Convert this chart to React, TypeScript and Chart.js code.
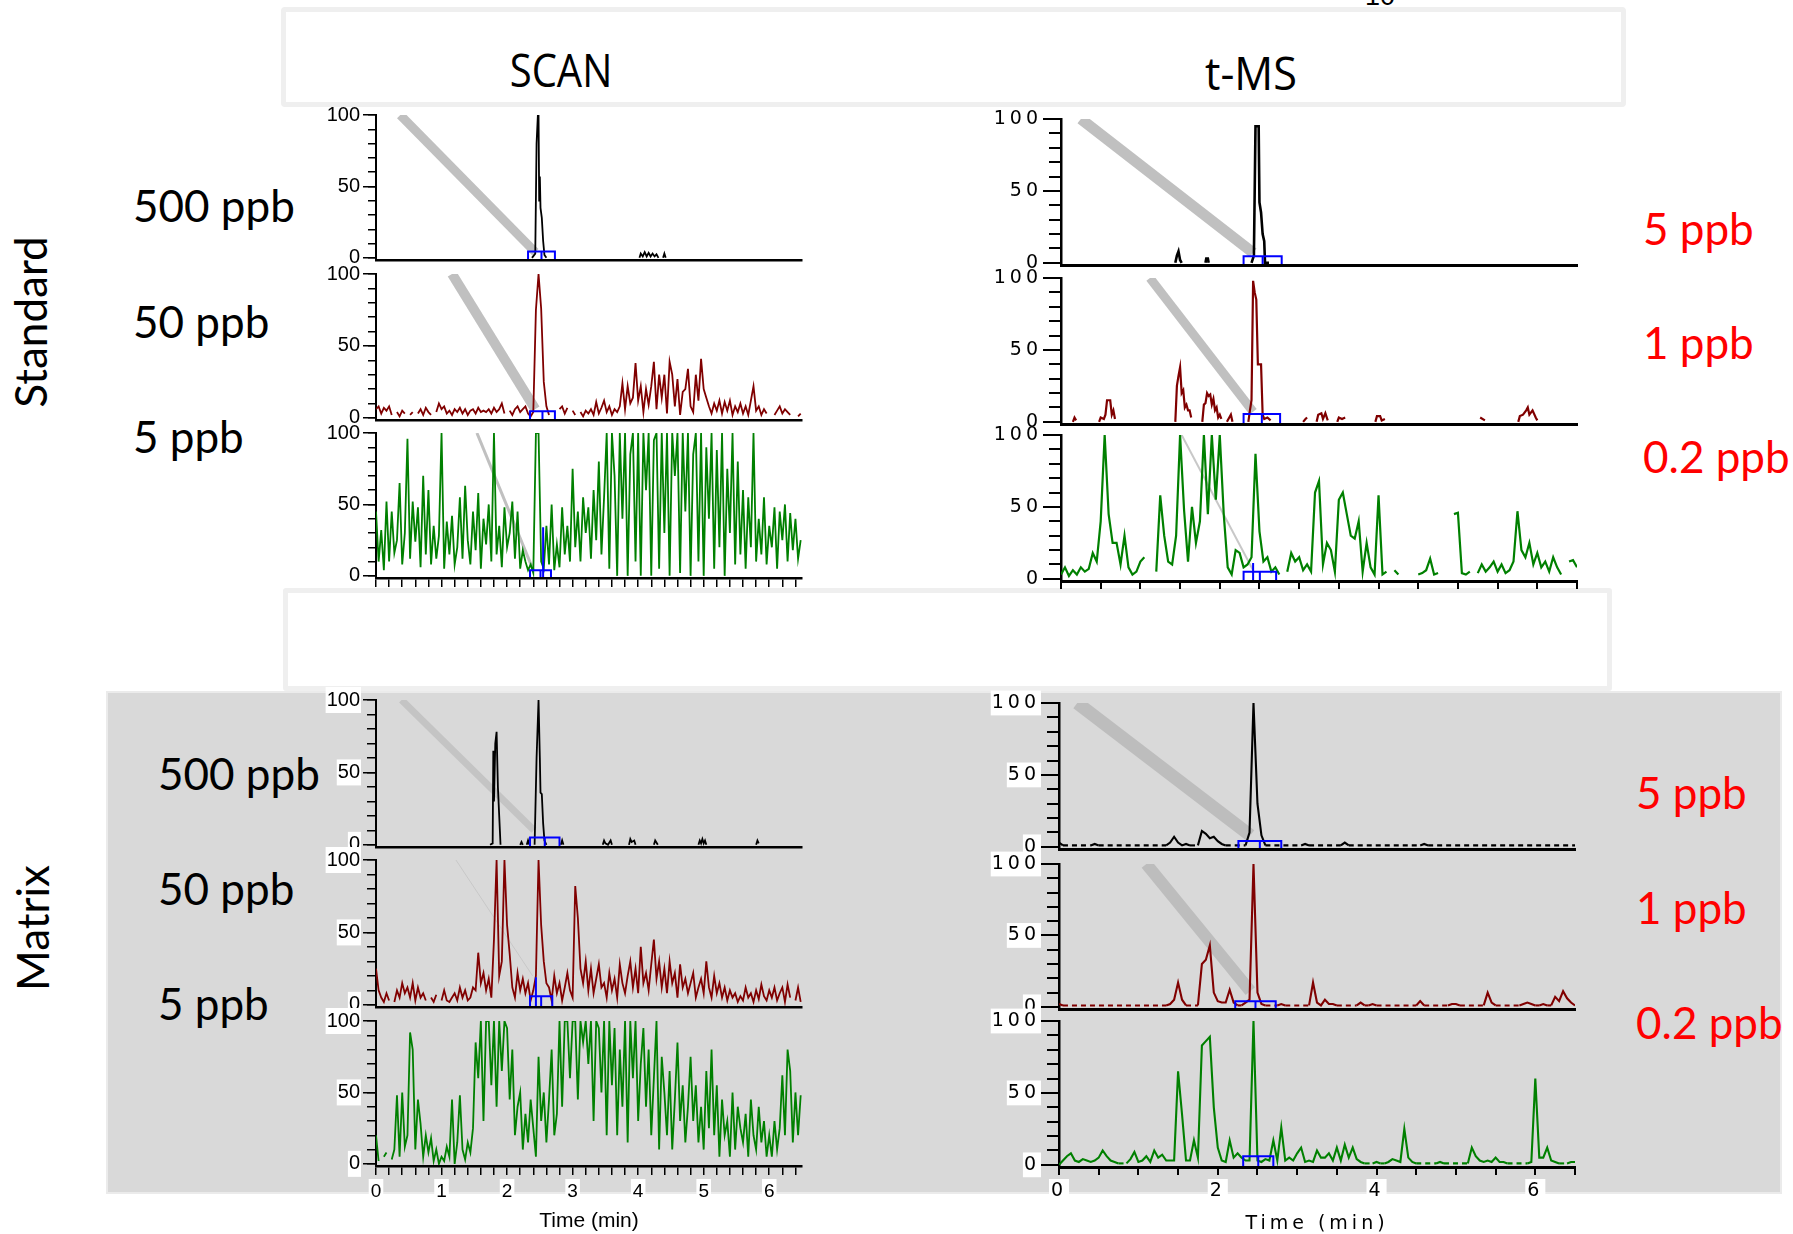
import React, { useEffect, useRef } from "react";
import { Chart, registerables } from "chart.js";
Chart.register(...registerables);

// ---------------- axis / sampling ----------------
const X_MAX = 6.5;
const SCAN_STEP = 0.04; // min between SCAN samples
const TMS_STEP = 0.05; // min between t-MS samples
const yMajorTicks = [0, 50, 100];

// ---------------- Standard, SCAN ----------------
const scanStd500Time = [2.38, 2.43, 2.45, 2.47, 2.48, 2.49, 2.5, 2.51, 2.53, 2.55, 2.57, 2.6, 2.6,
  4.02, 4.04, 4.07, 4.1, 4.13, 4.16, 4.19, 4.22, 4.25, 4.28, 4.31, 4.31, 4.38, 4.4, 4.42];
const scanStd500Int = [0, 3, 80, 100, 100, 40, 57, 35, 28, 12, 2, 0, null,
  0, 3, 1, 4, 1, 3.5, 1, 3, 1, 2.5, 0, null, 0, 3, 0];

const scanStd50Int = [
  6, 8, 3, 7, 5, 8, 2, null, 4, 1,
  5, 3, null, 2, 4, null, 3, 6, 2, 7,
  4, 2, null, 4, 10, 6, 8, 3, 5, 2,
  6, 4, 7, 3, 6, 2, 5, 6, 3, 7,
  4, 5, 4, 6, 3, 7, 4, 6, 10, 3,
  null, 5, 2, 6, 8, 4, 6, 8, 3, 1,
  4, 75, 100, 76, 25, 8, 2, null, null, null,
  6, 8, 3, 7, null, 5, 2, null, 4, 1,
  5, 3, 6, 2, 11, 3, 7, 12, 4, 8,
  2, 6, 4, 8, 24, 6, 22, 10, 14, 38,
  12, 22, 4, 20, 9, 22, 39, 6, 30, 14,
  30, 3, 39, 30, 8, 27, 2, 18, 20, 34,
  8, 4, 30, 12, 41, 20, 14, 8, 3, 10,
  5, 12, 3, 11, 5, 12, 2, 8, 4, 10,
  3, 8, 2, 12, 22, 5, 8, 2, 6, 3,
  null, null, 2, 5, 8, 3, 6, 4, 2, null,
  null, 1, 3,
];

const scanStd5Int = [
  45, 10, 32, 4, 52, 10, 45, 16, 25, 65,
  8, 30, 96, 12, 52, 24, 48, 6, 70, 15,
  60, 8, 35, 12, 28, 100, 5, 38, 15, 42,
  8, 20, 55, 12, 63, 25, 8, 45, 18, 58,
  5, 40, 22, 50, 10, 100, 15, 35, 6, 48,
  20, 30, 52, 12, 45, 5, 18, 10, 4, 8,
  2, 100, 100, 10, 5, 35, 8, 50, 4, 22,
  6, 48, 15, 35, 10, 75, 20, 45, 10, 55,
  30, 48, 12, 60, 25, 80, 15, 55, 100, 5,
  100, 70, 0, 100, 40, 100, 0, 85, 100, 10,
  100, 0, 100, 60, 100, 0, 95, 100, 5, 100,
  30, 100, 0, 100, 70, 100, 2, 100, 45, 100,
  0, 85, 100, 10, 100, 0, 90, 40, 100, 5,
  88, 20, 100, 0, 75, 30, 100, 8, 80, 15,
  60, 5, 55, 20, 100, 10, 40, 15, 55, 8,
  35, 20, 48, 5, 45, 25, 50, 10, 44, 18,
  40, 12, 25,
];

// ---------------- Standard, t-MS ----------------
const tmsStd5Time = [1.44, 1.46, 1.48, 1.5, 1.52, 1.52, 1.82, 1.83, 1.85, 1.86, 1.86,
  2.4, 2.43, 2.45, 2.49, 2.5, 2.52, 2.54, 2.56, 2.57, 2.62];
const tmsStd5Int = [0, 5, 8, 2, 0, null, 0, 3, 3, 0, null,
  0, 5, 95, 95, 42, 35, 20, 15, 0, 0];

const tmsStd1Time = [0.15, 0.17, 0.19, 0.19,
  0.48, 0.5, 0.54, 0.56, 0.58, 0.62, 0.64, 0.66, 0.68, 0.68,
  1.44, 1.46, 1.48, 1.5, 1.52, 1.54, 1.56, 1.58, 1.6, 1.62, 1.64, 1.64,
  1.78, 1.8, 1.82, 1.84, 1.86, 1.88, 1.9, 1.92, 1.94, 1.96, 1.98, 2.0, 2.02, 2.02,
  2.09, 2.12, 2.14, 2.16, 2.16,
  2.36, 2.38, 2.4, 2.42, 2.44, 2.46, 2.48, 2.52, 2.54, 2.56, 2.6, 2.64, 2.64,
  3.05, 3.08, 3.1, 3.1,
  3.22, 3.24, 3.28, 3.3, 3.33, 3.36, 3.36,
  3.48, 3.5, 3.54, 3.58, 3.58,
  3.96, 3.98, 4.02, 4.04, 4.08, 4.08,
  5.28, 5.34, 5.34,
  5.76, 5.78, 5.82, 5.86, 5.88, 5.9, 5.94, 5.98, 6.0];
const tmsStd1Int = [0, 3, 1, null,
  0, 3, 2, 5, 15, 15, 5, 8, 2, null,
  0, 25, 32, 38, 20, 22, 10, 12, 8, 8, 3, null,
  0, 12, 13, 20, 18, 19, 12, 16, 8, 10, 3, 5, 2, null,
  0, 3, 5, 0, null,
  0, 8, 15, 98, 90, 85, 40, 40, 5, 2, 3, 1, null,
  0, 2, 3, null,
  0, 5, 6, 2, 6, 1, null,
  0, 3, 2, 3, null,
  0, 4, 4, 1, 2, null,
  3, 1, null,
  0, 4, 5, 8, 10, 5, 8, 3, 1];

const tmsStd02Int = [
  3, 8, 2, 6, 3, 8, 5, 7, 18, 12,
  40, 100, 45, 25, 25, 10, 30, 8, 3, 5,
  12, 15, null, null, 5, 58, 30, 12, 10, 30,
  100, 48, 12, 50, 25, 40, 100, 45, 100, 55,
  100, 45, 8, 3, 20, 18, 8, 10, 15, 87,
  33, 12, 15, 5, 8, 3, null, 5, 18, 12,
  15, 6, 10, 5, 60, 68, 10, 25, 20, 5,
  55, 60, 45, 30, 28, 40, 5, 25, 8, 3,
  58, 3, 5, null, 6, 3, null, 6, null, null,
  3, 4, 6, 14, 3, 4, null, null, null, 45,
  46, 4, 3, 5, null, 4, 10, 5, 8, 12,
  5, 10, 4, 6, 12, 47, 20, 15, 25, 10,
  18, 8, 12, 5, 15, 8, 3, null, 12, 13, 8,
];

// ---------------- Matrix, SCAN ----------------
const scanMat500Time = [1.74, 1.78, 1.79, 1.8, 1.82, 1.84, 1.86, 1.88, 1.9, 1.9,
  2.2, 2.22, 2.24, 2.24,
  2.3, 2.32, 2.34, 2.34,
  2.42, 2.45, 2.48, 2.5, 2.51, 2.53, 2.55, 2.57, 2.6, 2.6,
  2.82, 2.84, 2.86, 2.86,
  3.46, 3.48, 3.5, 3.54, 3.58, 3.6, 3.6,
  3.86, 3.88, 3.9, 3.94, 3.96, 3.96,
  4.24, 4.26, 4.3, 4.3,
  4.92, 4.94, 4.96, 4.98, 5.0, 5.02, 5.04, 5.04,
  5.8, 5.82, 5.84];
const scanMat500Int = [0, 1, 65, 30, 70, 78, 40, 20, 0, null,
  0, 2, 0, null,
  0, 3, 0, null,
  0, 60, 100, 60, 36, 35, 15, 3, 0, null,
  0, 3, 0, null,
  0, 3, 1, 0, 3, 0, null,
  0, 4, 2, 3, 0, null,
  0, 3, 0, null,
  0, 3, 1, 4, 1, 3, 0, null,
  0, 3, 1];

const scanMat50Int = [
  25, 10, 5, 2, 8, 3, null, 2, 10, 5,
  15, 8, 12, 5, 15, 3, 12, 5, 8, 3,
  null, 5, 2, 7, null, 3, 10, 3, 2, 5,
  8, 3, 12, 5, 10, 3, 5, 12, 10, 36,
  15, 22, 10, 18, 5, 45, 100, 20, 30, 100,
  55, 35, 12, 5, 22, 10, 18, 8, 15, 3,
  10, 20, 100, 55, 30, 15, 12, 3, 20, 8,
  15, 3, 12, 22, 10, 5, 82, 60, 25, 15,
  30, 10, 25, 8, 18, 28, 12, 15, 5, 22,
  10, 18, 5, 28, 15, 8, 20, 30, 12, 25,
  8, 40, 15, 22, 10, 28, 45, 18, 30, 12,
  25, 8, 30, 15, 22, 5, 28, 12, 18, 8,
  15, 22, 5, 12, 18, 8, 30, 12, 5, 20,
  8, 15, 5, 12, 3, 10, 5, 8, 2, 6,
  3, 12, 5, 8, 2, 10, 4, 14, 6, 3,
  10, 5, 12, 3, 8, 12, 2, 14, 5, null,
  3, 12, 2,
];

const scanMat5Int = [
  20, 2, null, 5, 8, null, 3, 10, 48, 5,
  50, 12, 20, 92, 80, 10, 45, 28, 5, 20,
  8, 18, 2, 10, 0, 5, 2, 12, 5, 45,
  0, 15, 48, 10, 3, 15, 8, 25, 85, 60,
  100, 30, 100, 100, 55, 100, 40, 100, 65, 100,
  95, 45, 80, 20, 40, 50, 10, 35, 15, 45,
  25, 5, 75, 30, 50, 15, 45, 80, 20, 35,
  100, 40, 100, 100, 60, 100, 100, 45, 100, 85,
  100, 70, 100, 30, 100, 95, 50, 100, 20, 100,
  55, 95, 20, 80, 40, 100, 15, 100, 60, 100,
  30, 70, 95, 40, 80, 20, 60, 100, 10, 75,
  50, 20, 65, 10, 45, 85, 30, 55, 15, 40,
  75, 30, 55, 15, 40, 10, 65, 25, 80, 20,
  55, 5, 45, 20, 30, 5, 50, 10, 40, 25,
  15, 35, 5, 45, 20, 10, 40, 15, 30, 5,
  20, 5, 30, 10, 25, 62, 20, 80, 65, 15,
  50, 20, 48,
];

// ---------------- Matrix, t-MS ----------------
const tmsMat5Int = [
  3, 1, 1, 1, 1, 1, 1, 1, 1, 2,
  1, 1, 1, 1, 1, 1, 1, 1, 1, 1,
  1, 1, 1, 1, 1, 1, 1, 1, 3, 7,
  3, 1, 2, 1, 1, 1, 11, 9, 6, 7,
  4, 2, 1, 1, 1, 1, 1, 1, 10, 100,
  30, 8, 1, 1, 1, 1, 1, 1, 1, 1,
  1, 1, 2, 1, 1, 1, 1, 1, 1, 1,
  1, 1, 3, 1, 1, 1, 1, 1, 1, 1,
  1, 1, 1, 1, 1, 1, 1, 1, 1, 1,
  1, 1, 2, 1, 1, 1, 1, 1, 1, 1,
  1, 1, 1, 1, 1, 1, 1, 1, 1, 1,
  1, 1, 1, 1, 1, 1, 1, 1, 1, 1,
  1, 1, 1, 1, 1, 1, 1, 1, 1, 1, 1,
];

const tmsMat1Int = [
  2, 1, 1, 1, 1, 1, 1, 1, 1, 1,
  1, 1, 1, 1, 1, 1, 1, 1, 1, 1,
  1, 1, 1, 1, 1, 1, 1, 1, 2, 5,
  17, 5, 1, 1, 1, 1, 30, 33, 43, 10,
  4, 3, 3, 12, 3, 1, 1, 3, 5, 100,
  10, 2, 1, 1, 1, 1, 2, 1, 1, 1,
  1, 1, 1, 1, 17, 3, 1, 5, 2, 2,
  1, 1, 1, 1, 1, 1, 3, 1, 1, 2,
  1, 1, 1, 1, 1, 1, 1, 1, 1, 1,
  1, 4, 1, 1, 1, 1, 1, 1, 1, 2,
  2, 1, 1, 1, 1, 1, 1, 1, 10, 3,
  1, 1, 1, 1, 1, 1, 1, 2, 3, 2,
  1, 1, 2, 1, 1, 7, 4, 11, 6, 3, 1,
];

const tmsMat02Int = [
  0, 3, 6, 8, 3, 2, 4, 3, 2, 3,
  5, 10, 6, 3, 2, 1, 1, 1, 4, 9,
  2, 3, 6, 2, 10, 5, 7, 3, 3, 3,
  65, 35, 3, 3, 17, 5, 83, 86, 89, 40,
  12, 3, 2, 17, 5, 8, 5, 3, 3, 100,
  3, 2, 4, 3, 17, 3, 26, 3, 5, 3,
  8, 12, 2, 3, 2, 10, 5, 5, 8, 3,
  12, 3, 14, 5, 12, 4, 2, 1, 1, 1,
  2, 1, 1, 2, 4, 3, 2, 25, 5, 2,
  1, 1, 1, 1, 1, 1, 2, 1, 1, 1,
  1, 1, 1, 1, 12, 6, 3, 2, 3, 2,
  5, 2, 2, 1, 1, 1, 1, 1, 1, 2,
  60, 5, 5, 12, 3, 2, 1, 1, 1, 2, 2,
];

// ---------------- callouts (grey band + blue integration box) ----------------
// band: [x0, y0, x1, y1] in data units ; box: [xStart, xEnd, height] ; spike: [x, height]
const bandStd = [[0.37, 100, 2.43, 4], [1.16, 100, 2.43, 6], [1.54, 100, 2.4, 4]];
const bandStdT = [[0.25, 100, 2.42, 7], [1.12, 100, 2.42, 7], [1.52, 100, 2.42, 6]];
const bandMat = [[0.39, 100, 2.41, 10], [1.22, 100, 2.39, 20]];
const bandMatT = [[0.23, 100, 2.41, 8], [1.1, 100, 2.41, 11]];
const boxStd = [[2.32, 2.73, 4.5], [2.35, 2.73, 4.5], [2.35, 2.67, 4]];
const boxStdT = [[2.3, 2.78, 4.5], [2.3, 2.76, 5.5], [2.3, 2.71, 5]];
const boxMat = [[2.35, 2.8, 5], [2.35, 2.69, 6]];
const boxMatT = [[2.26, 2.8, 4], [2.22, 2.73, 4], [2.32, 2.7, 6]];

const rowLabelsLeft = ["500 ppb", "50 ppb", "5 ppb"];
const rowLabelsRight = ["5 ppb", "1 ppb", "0.2 ppb"];

// ---------------- helpers ----------------
type Pt = { x: number; y: number | null };
const onGrid = (vals: (number | null)[], step: number): Pt[] =>
  vals.map((v, i) => ({ x: Math.round(i * step * 1000) / 1000, y: v }));
const paired = (ts: number[], vs: (number | null)[]): Pt[] => ts.map((t, i) => ({ x: t, y: vs[i] }));

const BLACK = "#000000";
const RED = "#800000";
const GREEN = "#008000";

type Style = {
  font: string; ySize: number; majorLen: number; minorLen: number; tickW: number;
  xTickLen: number; xStep: number; labelEvery: number; xSize: number; titleSize: number;
  ls: string; yPad: number; axisW: number;
};
const SCAN_STYLE: Style = {
  font: '"Liberation Sans", Arial, sans-serif', ySize: 20, majorLen: 13, minorLen: 8, tickW: 1.5,
  xTickLen: 9, xStep: 0.2, labelEvery: 1, xSize: 19, titleSize: 21, ls: "0px", yPad: 3, axisW: 2,
};
const TMS_STYLE: Style = {
  font: '"DejaVu Sans", Verdana, sans-serif', ySize: 19, majorLen: 18, minorLen: 12, tickW: 2,
  xTickLen: 8, xStep: 0.5, labelEvery: 2, xSize: 19, titleSize: 19, ls: "4px", yPad: 1, axisW: 2.5,
};

type PanelDef = {
  id: string; left: number; top: number; width: number; height: number;
  points: Pt[]; color: string; lw: number; style: Style;
  band?: number[]; bandW?: number; bandColor?: string;
  box?: number[]; spike?: number[];
  xTicks: boolean; xLabels: boolean; backdrop: boolean; dashedBase?: boolean; minorLen?: number;
};

function Panel({ d }: { d: PanelDef }) {
  const ref = useRef<HTMLCanvasElement | null>(null);
  const PADL = 70, PADT = 14, PADR = 12;
  const PADB = d.xLabels ? 68 : 16;
  const cw = d.width + PADL + PADR;
  const ch = d.height + PADT + PADB;
  useEffect(() => {
    const canvas = ref.current;
    if (!canvas) return;
    const S = d.style;
    const datasets: any[] = [];
    datasets.push({
      data: d.points, borderColor: d.color, borderWidth: d.lw, order: 1,
      pointRadius: 0, tension: 0, spanGaps: false, borderJoinStyle: "miter",
      segment: d.dashedBase
        ? { borderDash: (c: any) => (c.p0.parsed.y <= 1.5 && c.p1.parsed.y <= 1.5 ? [5, 4] : undefined) }
        : undefined,
    });
    if (d.band) {
      datasets.push({
        data: [{ x: d.band[0], y: d.band[1] }, { x: d.band[2], y: d.band[3] }],
        borderColor: d.bandColor || "#c0c0c0", borderWidth: d.bandW || 8, order: 2,
        pointRadius: 0, borderCapStyle: "butt",
      });
    }
    if (d.box) {
      const [x0, x1, h] = d.box;
      const xm = (x0 + x1) / 2;
      const pts: Pt[] = [
        { x: x0, y: -1.5 }, { x: x0, y: h }, { x: x1, y: h }, { x: x1, y: -1.5 }, { x: x1, y: null },
        { x: xm, y: -1.5 }, { x: xm, y: h },
      ];
      if (d.spike) pts.push({ x: d.spike[0], y: null }, { x: d.spike[0], y: -1.5 }, { x: d.spike[0], y: d.spike[1] });
      datasets.push({ data: pts, borderColor: "#0000ff", borderWidth: 2, order: 0, pointRadius: 0, spanGaps: false });
    }
    const backdropColor = (c: any) => (d.backdrop && c.tick && c.tick.label !== "" ? "#ffffff" : "rgba(0,0,0,0)");
    const lsPlugin = {
      id: "letterSpacing",
      beforeUpdate: (c: any) => { c.ctx.letterSpacing = S.ls; },
      beforeDraw: (c: any) => { c.ctx.letterSpacing = S.ls; },
    };
    const chart = new Chart(canvas, {
      type: "line",
      data: { datasets },
      plugins: [lsPlugin],
      options: {
        responsive: false,
        animation: false,
        events: [],
        layout: { padding: { left: 0, top: PADT, right: PADR, bottom: 0 } },
        plugins: { legend: { display: false }, tooltip: { enabled: false }, title: { display: false } },
        scales: {
          x: {
            type: "linear", min: 0, max: X_MAX, position: "bottom",
            border: { display: true, color: "#000", width: S.axisW + 0.5, z: 1 },
            grid: { display: true, drawOnChartArea: false, drawTicks: d.xTicks, tickLength: S.xTickLen, color: "#000", lineWidth: S.tickW },
            ticks: {
              display: d.xLabels, stepSize: S.xStep, autoSkip: false, maxRotation: 0, minRotation: 0, includeBounds: false,
              color: "#000", padding: 5, font: { family: S.font, size: S.xSize },
              showLabelBackdrop: d.backdrop, backdropColor, backdropPadding: { x: 2, y: 1 },
              callback: (v: any) => {
                const q = Number(v) / S.labelEvery;
                return Math.abs(q - Math.round(q)) < 1e-6 ? String(Math.round(Number(v))) : "";
              },
            },
            title: {
              display: d.xLabels, text: "Time (min)", color: "#000",
              font: { family: S.font, size: S.titleSize }, padding: { top: 0, bottom: 0 },
            },
            afterFit: (s: any) => { s.height = PADB; },
          },
          y: {
            type: "linear", min: -1.5, max: 100, position: "left", weight: 0,
            border: { display: true, color: "#000", width: S.axisW },
            grid: { display: true, drawOnChartArea: false, drawTicks: true, tickLength: d.minorLen || S.minorLen, color: "#000", lineWidth: S.tickW },
            ticks: { display: false, stepSize: 10, includeBounds: false },
            afterFit: (s: any) => { s.width = 0; },
          },
          yMajor: {
            type: "linear", min: -1.5, max: 100, position: "left", weight: 1,
            border: { display: false },
            grid: { display: true, drawOnChartArea: false, drawTicks: true, tickLength: S.majorLen, color: "#000", lineWidth: S.tickW },
            ticks: {
              includeBounds: false, color: "#000", padding: S.yPad,
              font: { family: S.font, size: S.ySize },
              showLabelBackdrop: d.backdrop, backdropColor: d.backdrop ? "#ffffff" : "rgba(0,0,0,0)", backdropPadding: { x: 1, y: 1 },
            },
            afterBuildTicks: (s: any) => { s.ticks = yMajorTicks.map((v) => ({ value: v })); },
            afterFit: (s: any) => { s.width = PADL; },
          },
        },
      } as any,
    });
    return () => chart.destroy();
  }, []);
  return (
    <canvas
      ref={ref}
      width={cw}
      height={ch}
      style={{ position: "absolute", left: d.left - PADL, top: d.top - PADT, width: cw, height: ch }}
    />
  );
}

// ---------------- layout ----------------
const COL_SCAN = { left: 376, width: 426 };
const COL_TMS_STD = { left: 1061, width: 516 };
const COL_TMS_MAT = { left: 1059, width: 516 };
const ROWS_STD_SCAN = [[114, 146], [273, 147], [432, 146]];
const ROWS_STD_TMS = [[119, 146], [278, 146], [435, 146]];
const ROWS_MAT_SCAN = [[699, 148], [859, 148], [1020, 146]];
const ROWS_MAT_TMS = [[703, 146], [864, 145], [1021, 146]];

const stdScanSeries = [paired(scanStd500Time, scanStd500Int), onGrid(scanStd50Int, SCAN_STEP), onGrid(scanStd5Int, SCAN_STEP)];
const stdTmsSeries = [paired(tmsStd5Time, tmsStd5Int), paired(tmsStd1Time, tmsStd1Int), onGrid(tmsStd02Int, TMS_STEP)];
const matScanSeries = [paired(scanMat500Time, scanMat500Int), onGrid(scanMat50Int, SCAN_STEP), onGrid(scanMat5Int, SCAN_STEP)];
const matTmsSeries = [onGrid(tmsMat5Int, TMS_STEP), onGrid(tmsMat1Int, TMS_STEP), onGrid(tmsMat02Int, TMS_STEP)];
const COLORS = [BLACK, RED, GREEN];

const panels: PanelDef[] = [];
for (let r = 0; r < 3; r++) {
  panels.push({
    id: "ss" + r, left: COL_SCAN.left, width: COL_SCAN.width, top: ROWS_STD_SCAN[r][0], height: ROWS_STD_SCAN[r][1],
    points: stdScanSeries[r], color: COLORS[r], lw: 1.8, style: SCAN_STYLE,
    band: bandStd[r], bandW: [9, 10, 3][r], box: boxStd[r], spike: r === 2 ? [2.55, 34] : undefined,
    xTicks: r === 2, xLabels: false, backdrop: false,
  });
  panels.push({
    id: "st" + r, left: COL_TMS_STD.left, width: COL_TMS_STD.width, top: ROWS_STD_TMS[r][0], height: ROWS_STD_TMS[r][1],
    points: stdTmsSeries[r], color: COLORS[r], lw: r === 0 ? 2.6 : 2.2, style: TMS_STYLE,
    band: bandStdT[r], bandW: [11, 9, 2][r], bandColor: r === 2 ? "#c8c8c8" : "#c0c0c0",
    box: boxStdT[r], spike: r === 2 ? [2.42, 11] : undefined,
    xTicks: r === 2, xLabels: false, backdrop: false,
  });
  panels.push({
    id: "ms" + r, left: COL_SCAN.left, width: COL_SCAN.width, top: ROWS_MAT_SCAN[r][0], height: ROWS_MAT_SCAN[r][1],
    points: matScanSeries[r], color: COLORS[r], lw: 1.8, style: SCAN_STYLE,
    band: bandMat[r], bandW: [7, 1][r], bandColor: r === 1 ? "#c8c8c8" : "#c4c4c4",
    box: boxMat[r], spike: r === 1 ? [2.44, 19] : undefined,
    xTicks: r === 2, xLabels: r === 2, backdrop: true, minorLen: 9,
  });
  panels.push({
    id: "mt" + r, left: COL_TMS_MAT.left, width: COL_TMS_MAT.width, top: ROWS_MAT_TMS[r][0], height: ROWS_MAT_TMS[r][1],
    points: matTmsSeries[r], color: COLORS[r], lw: 2.1, style: TMS_STYLE,
    band: bandMatT[r], bandW: [13, 12][r], bandColor: "#bdbdbd",
    box: boxMatT[r], xTicks: r === 2, xLabels: r === 2, backdrop: true, dashedBase: true,
  });
}

const LABEL_FONT = 'Lato, "Open Sans", sans-serif';
const HEAD_FONT = '"Liberation Sans Narrow", "Open Sans", sans-serif';
const leftStdTops = [183, 299, 414];
const leftMatTops = [751, 866, 981];
const rightStdTops = [206, 320, 434];
const rightMatTops = [770, 885, 1000];

function Txt(props: { x: number; y: number; text: string; color?: string; size?: number; family?: string }) {
  const size = props.size || 44;
  return (
    <div
      style={{
        position: "absolute", left: props.x, top: props.y, fontFamily: props.family || LABEL_FONT,
        fontSize: size, lineHeight: size + "px", color: props.color || "#000", whiteSpace: "nowrap",
      }}
    >
      {props.text}
    </div>
  );
}

export default function App() {
  return (
    <div style={{ position: "absolute", left: 0, top: 0, width: 1793, height: 1234, background: "#fff", overflow: "hidden" }}>
      {/* header box */}
      <div style={{ position: "absolute", left: 281, top: 7, width: 1345, height: 100, boxSizing: "border-box", border: "5px solid #efefef", borderRadius: 4, background: "#fff" }} />
      <div style={{ position: "absolute", left: 1365, top: -17, fontFamily: '"Liberation Sans", Arial', fontSize: 27, lineHeight: "27px" }}>10</div>
      <div style={{ position: "absolute", left: 561, top: 46, transform: "translateX(-50%) scaleX(0.87)", fontFamily: HEAD_FONT, fontSize: 46, lineHeight: "46px", whiteSpace: "nowrap" }}>SCAN</div>
      <div style={{ position: "absolute", left: 1251, top: 49, transform: "translateX(-50%) scaleX(0.94)", fontFamily: HEAD_FONT, fontSize: 46, lineHeight: "46px", whiteSpace: "nowrap" }}>t-MS</div>
      {/* middle box */}
      <div style={{ position: "absolute", left: 283, top: 588, width: 1329, height: 103, boxSizing: "border-box", border: "5px solid #efefef", borderRadius: 3, background: "#fff" }} />
      {/* matrix background */}
      <div style={{ position: "absolute", left: 106, top: 691, width: 1676, height: 503, boxSizing: "border-box", border: "2px solid #ebebeb", background: "#d9d9d9" }} />
      {/* group labels */}
      <div style={{ position: "absolute", left: 30, top: 322, transform: "translate(-50%, -50%) rotate(-90deg)", fontFamily: LABEL_FONT, fontSize: 44, lineHeight: "44px", whiteSpace: "nowrap" }}>Standard</div>
      <div style={{ position: "absolute", left: 32, top: 928, transform: "translate(-50%, -50%) rotate(-90deg)", fontFamily: LABEL_FONT, fontSize: 44, lineHeight: "44px", whiteSpace: "nowrap" }}>Matrix</div>
      {rowLabelsLeft.map((t, i) => <Txt key={"ls" + i} x={133} y={leftStdTops[i]} text={t} />)}
      {rowLabelsLeft.map((t, i) => <Txt key={"lm" + i} x={158} y={leftMatTops[i]} text={t} />)}
      {rowLabelsRight.map((t, i) => <Txt key={"rs" + i} x={1643} y={rightStdTops[i]} text={t} color="#ff0000" />)}
      {rowLabelsRight.map((t, i) => <Txt key={"rm" + i} x={1636} y={rightMatTops[i]} text={t} color="#ff0000" />)}
      {panels.map((p) => <Panel key={p.id} d={p} />)}
    </div>
  );
}
